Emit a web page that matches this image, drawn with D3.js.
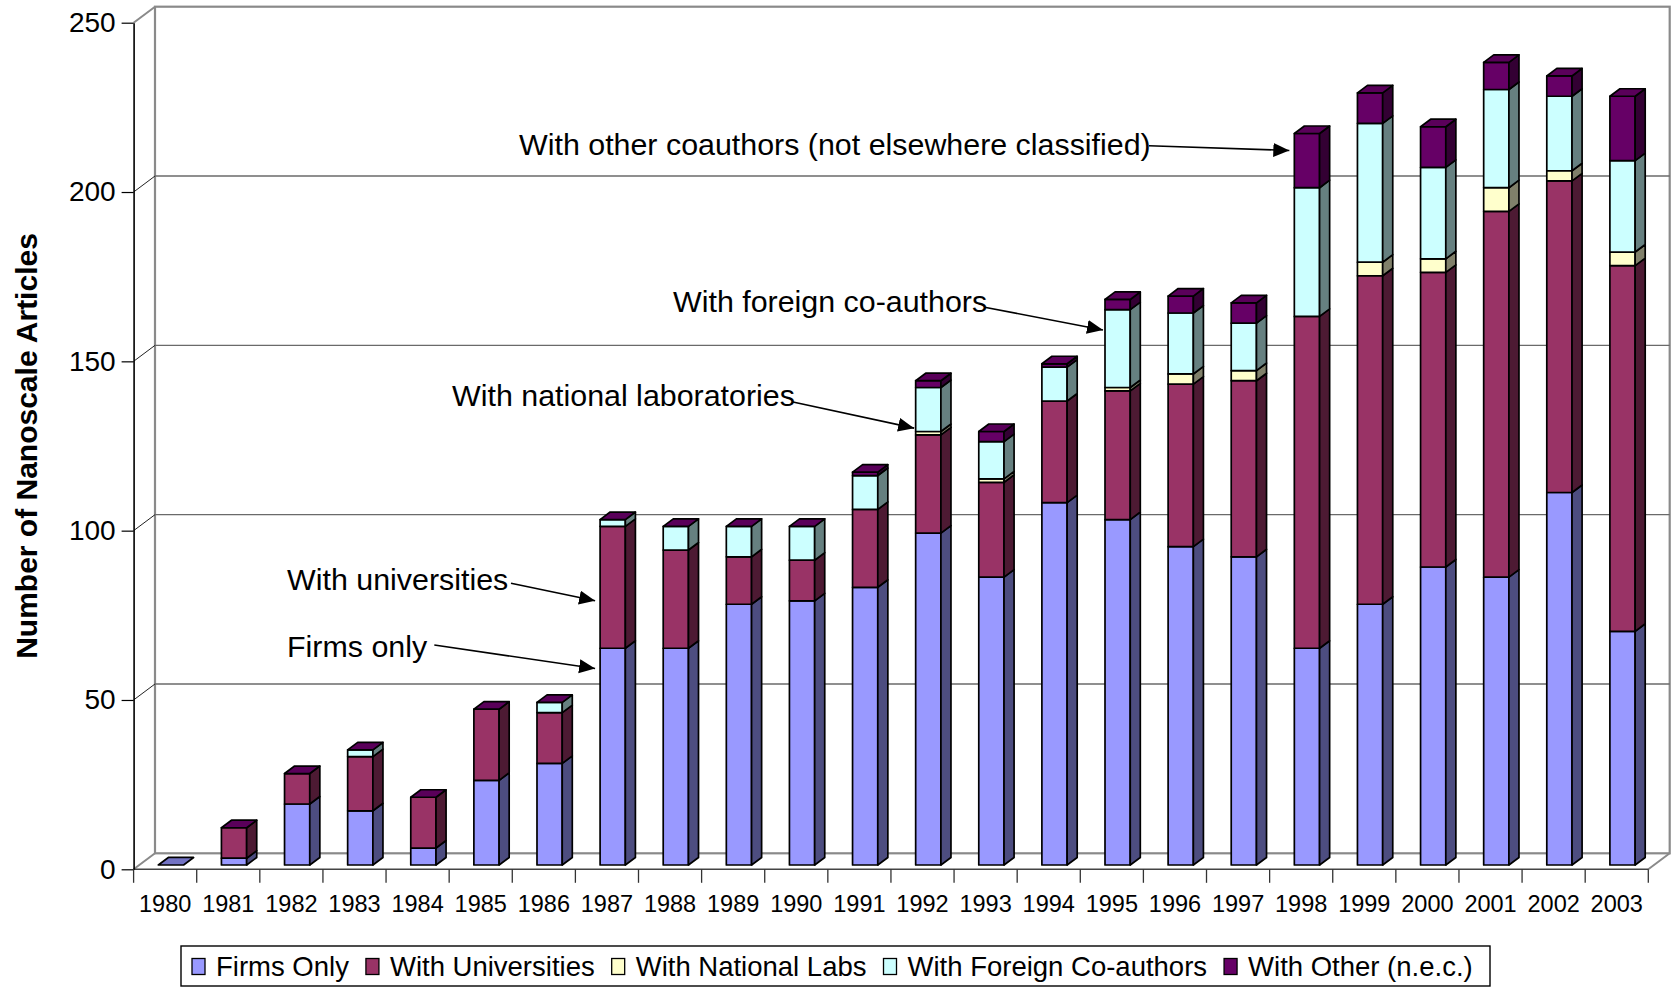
<!DOCTYPE html>
<html>
<head>
<meta charset="utf-8">
<script src="https://cdn.jsdelivr.net/npm/d3@7"></script>
<style>
  html, body { margin: 0; padding: 0; background: #fff; }
  svg { display: block; font-family: "Liberation Sans", Arial, sans-serif; }
</style>
</head>
<body>
<svg id="chart" width="1671" height="987"></svg>
<script>
// ---------------- DATA ----------------
const years = ["1980","1981","1982","1983","1984","1985","1986","1987","1988","1989","1990","1991",
               "1992","1993","1994","1995","1996","1997","1998","1999","2000","2001","2002","2003"];
const firmsOnly        = [0, 2, 18, 16, 5, 25, 30, 64, 64, 77, 78, 82, 98, 85, 107, 102, 94, 91, 64, 77, 88, 85, 110, 69];
const withUniversities = [0, 9,  9, 16, 15, 21, 15, 36, 29, 14, 12, 23, 29, 28, 30, 38, 48, 52, 98, 97, 87, 108, 92, 108];
const withNationalLabs = [0, 0,  0,  0, 0,  0,  0,  0,  0,  0,  0,  0,  1,  1,  0,  1,  3,  3,  0,  4,  4,  7,  3,  4];
const withForeign      = [0, 0,  0,  2, 0,  0,  3,  2,  7,  9, 10, 10, 13, 11, 10, 23, 18, 14, 38, 41, 27, 29, 22, 27];
const withOther        = [0, 0,  0,  0, 0,  0,  0,  0,  0,  0,  0,  1,  2,  3,  1,  3,  5,  6, 16,  9, 12,  8,  6, 19];

const seriesKeys  = ["firms", "univ", "labs", "foreign", "other"];
const seriesNames = ["Firms Only", "With Universities", "With National Labs", "With Foreign Co-authors", "With Other (n.e.c.)"];
const seriesFront = ["#9999FF", "#993366", "#FFFFCC", "#CCFFFF", "#660066"];
const seriesSide  = ["#4D4D80", "#4D1A33", "#80806A", "#668080", "#330033"];
const topOther = "#5A005A", topEmpty = "#7373C4";

const yTicks = [0, 50, 100, 150, 200, 250];
const yTitle = "Number of Nanoscale Articles";

const annotations = [
  {text: "With other coauthors (not elsewhere classified)", tx: 519, ty: 155, lx: 1149, ly: 145.7, year: "1998", v: 211, gap: 5},
  {text: "With foreign co-authors", tx: 673, ty: 311.7, lx: 984.6, ly: 307.3, year: "1995", v: 158, gap: 2},
  {text: "With national laboratories", tx: 452, ty: 406, lx: 791.8, ly: 401.7, year: "1992", v: 129, gap: 1.5},
  {text: "With universities", tx: 287, ty: 590, lx: 511, ly: 583.3, year: "1987", v: 78, gap: 5},
  {text: "Firms only", tx: 287, ty: 656.7, lx: 434.3, ly: 645, year: "1987", v: 58, gap: 5}
];

// ---------------- LAYOUT ----------------
const svg = d3.select("#chart");
const X0 = 133.6, X1 = 1648.3, YB = 869.3, YT = 22.7;
const DX = 21.4, DY = -16;            // full depth offset
const D0 = 0.27, D1 = 0.74;           // bar depth range
const font = '"Liberation Sans", Arial, sans-serif';

const x = d3.scaleBand().domain(years).range([X0, X1]).padding(0);
const y = d3.scaleLinear().domain([0, 250]).range([YB, YT]);
const bw = x.bandwidth();
const barW = bw * 0.4;

const rows = years.map((yr, i) => ({year: yr, firms: firmsOnly[i], univ: withUniversities[i],
  labs: withNationalLabs[i], foreign: withForeign[i], other: withOther[i]}));
const stacked = d3.stack().keys(seriesKeys)(rows);

// ---- walls ----
const walls = svg.append("g");
walls.append("rect")
  .attr("x", X0 + DX).attr("y", y(250) + DY)
  .attr("width", X1 - X0).attr("height", y(0) - y(250))
  .attr("fill", "#fff").attr("stroke", "#8a8a8a").attr("stroke-width", 2.2);
walls.selectAll("line.grid").data(yTicks.filter(t => t > 0 && t < 250)).join("line")
  .attr("x1", X0 + DX).attr("x2", X1 + DX)
  .attr("y1", d => y(d) + DY).attr("y2", d => y(d) + DY)
  .attr("stroke", "#6a6a6a").attr("stroke-width", 1.3);
walls.selectAll("line.diag").data(yTicks).join("line")
  .attr("x1", X0).attr("y1", d => y(d))
  .attr("x2", X0 + DX).attr("y2", d => y(d) + DY)
  .attr("stroke", d => (d === 250 || d === 0) ? "#8a8a8a" : "#222")
  .attr("stroke-width", d => (d === 250 || d === 0) ? 2 : 1);
walls.append("line").attr("x1", X1).attr("y1", y(0)).attr("x2", X1 + DX).attr("y2", y(0) + DY)
  .attr("stroke", "#8a8a8a").attr("stroke-width", 2);
walls.append("line").attr("x1", X0).attr("y1", y(0)).attr("x2", X1).attr("y2", y(0))
  .attr("stroke", "#444").attr("stroke-width", 1.6);

// ---- y axis ----
const yAxis = svg.append("g").attr("transform", `translate(${X0},0)`)
  .call(d3.axisLeft(y).tickValues(yTicks).tickSizeInner(12).tickSizeOuter(0).tickPadding(6));
yAxis.select(".domain").attr("stroke", "#000").attr("stroke-width", 1.6);
yAxis.selectAll(".tick line").attr("stroke", "#000").attr("stroke-width", 1.2);
yAxis.selectAll(".tick text").attr("font-size", 28).attr("font-family", font).attr("fill", "#000");

// ---- x axis ----
const xAxis = svg.append("g").attr("transform", `translate(0,${YB})`)
  .call(d3.axisBottom(x).tickSize(0).tickPadding(26));
xAxis.select(".domain").remove();
xAxis.selectAll(".tick text").attr("font-size", 23.5).attr("font-family", font).attr("fill", "#000");
svg.append("g").selectAll("line").data(d3.range(years.length + 1)).join("line")
  .attr("x1", i => X0 + i * bw).attr("x2", i => X0 + i * bw)
  .attr("y1", YB).attr("y2", YB + 13.5)
  .attr("stroke", "#333").attr("stroke-width", 1.3);

// ---- bars ----
const P = (px, v, d) => [px + d * DX, y(v) + d * DY];
const poly = pts => "M" + pts.map(p => p.join(",")).join("L") + "Z";
const barsG = svg.append("g").attr("stroke", "#000").attr("stroke-width", 1.7).attr("stroke-linejoin", "round");

years.forEach((yr, i) => {
  const cx = x(yr) + bw / 2;
  const L = cx - barW / 2, R = cx + barW / 2;
  const g = barsG.append("g");
  let total = 0;
  stacked.forEach((s, k) => {
    const v0 = s[i][0], v1 = s[i][1];
    total = v1;
    if (v1 - v0 <= 0) return;
    g.append("path").attr("d", poly([P(L, v0, D0), P(R, v0, D0), P(R, v1, D0), P(L, v1, D0)]))
      .attr("fill", seriesFront[k]);
    g.append("path").attr("d", poly([P(R, v0, D0), P(R, v0, D1), P(R, v1, D1), P(R, v1, D0)]))
      .attr("fill", seriesSide[k]);
  });
  g.append("path").attr("d", poly([P(L, total, D0), P(R, total, D0), P(R, total, D1), P(L, total, D1)]))
    .attr("fill", total > 0 ? topOther : topEmpty);
});

// ---- y title ----
svg.append("text")
  .attr("transform", "translate(37,446) rotate(-90)")
  .attr("text-anchor", "middle")
  .attr("font-size", 30).attr("font-weight", "bold").attr("font-family", font)
  .text(yTitle);

// ---- annotations ----
const defs = svg.append("defs");
defs.append("marker").attr("id", "arrow")
  .attr("markerUnits", "userSpaceOnUse").attr("markerWidth", 18).attr("markerHeight", 16)
  .attr("refX", 16).attr("refY", 7).attr("orient", "auto")
  .append("path").attr("d", "M0,0L16,7L0,14Z").attr("fill", "#000");

const annG = svg.append("g");
annotations.forEach(a => {
  const cx = x(a.year) + bw / 2;
  const tipX = cx - barW / 2 + D0 * DX - a.gap;
  const tipY = y(a.v) + D0 * DY;
  annG.append("line").attr("x1", a.lx).attr("y1", a.ly).attr("x2", tipX).attr("y2", tipY)
    .attr("stroke", "#000").attr("stroke-width", 1.6).attr("marker-end", "url(#arrow)");
  annG.append("text").attr("x", a.tx).attr("y", a.ty)
    .attr("font-size", 30.4).attr("font-family", font).attr("fill", "#000").text(a.text);
});

// ---- legend ----
const legG = svg.append("g");
const legFont = 27.5, legY = 966.5;
legG.append("rect").attr("x", 181).attr("y", 946).attr("width", 1309).attr("height", 40)
  .attr("fill", "#fff").attr("stroke", "#000").attr("stroke-width", 1.4);
let lx = 192;
seriesNames.forEach((name, k) => {
  legG.append("rect").attr("x", lx).attr("y", legY - 8).attr("width", 13).attr("height", 16)
    .attr("fill", seriesFront[k]).attr("stroke", "#000").attr("stroke-width", 1.3);
  const t = legG.append("text").attr("x", lx + 24).attr("y", legY).attr("dy", "0.35em")
    .attr("font-size", legFont).attr("font-family", font).text(name);
  lx += 24 + t.node().getComputedTextLength() + 17;
});
</script>
</body>
</html>
